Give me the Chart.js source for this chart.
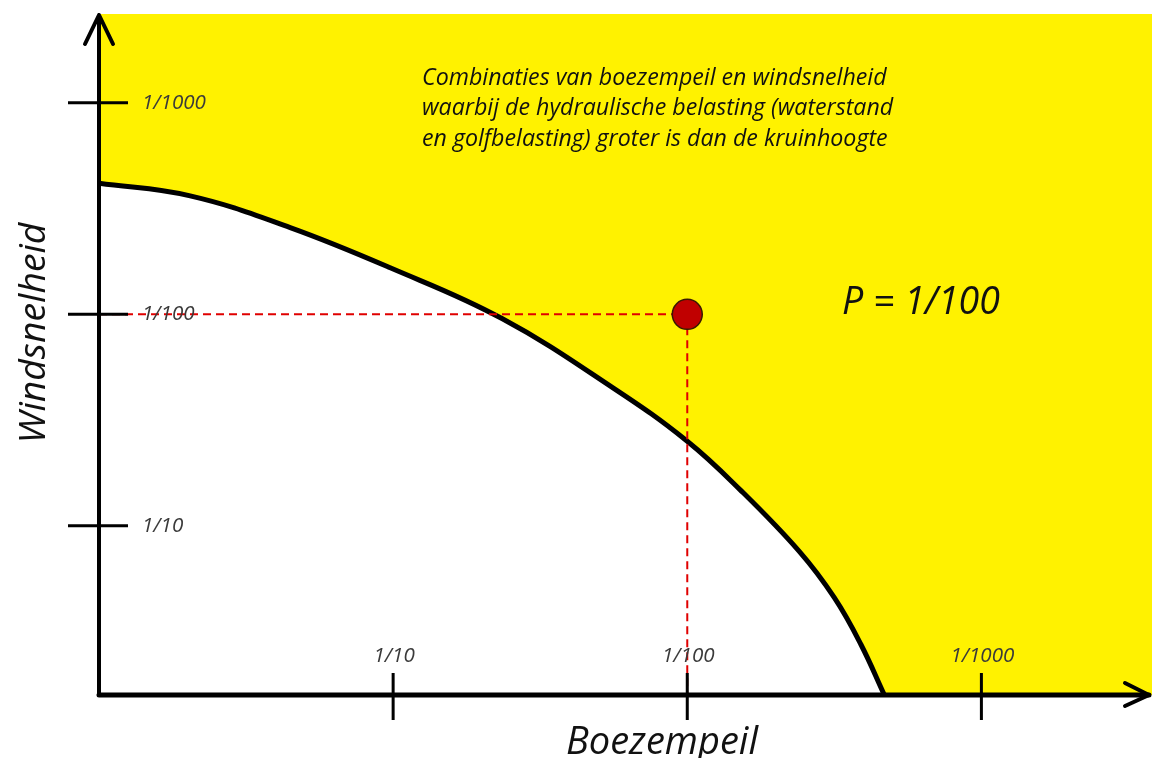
<!DOCTYPE html>
<html lang="nl">
<head>
    <meta charset="UTF-8">
    <title>Boezempeil en windsnelheid</title>
    <style>
        html, body { margin: 0; padding: 0; background: #fff; overflow: hidden; }
        #wrap { width: 1152px; height: 758px; }
    </style>
</head>
<body>
    <div id="wrap"><canvas id="myChart" width="1152" height="758"></canvas></div>

    <script src="https://cdn.jsdelivr.net/npm/chart.js@4.4.0/dist/chart.umd.min.js"></script>
    <script>
        // axis ticks (log10 of the return period)
        var xTickValues = [1, 2, 3];
        var xTickLabels = ['1/10', '1/100', '1/1000'];
        var yTickValues = [1, 2, 3];
        var yTickLabels = ['1/10', '1/100', '1/1000'];

        // combinations with P = 1/100
        var curveX = [0, 0.31, 0.65, 0.99, 1.37, 1.75, 2.00, 2.18, 2.38, 2.50, 2.59, 2.67];
        var curveY = [2.62, 2.56, 2.41, 2.22, 1.98, 1.65, 1.40, 1.17, 0.88, 0.66, 0.44, 0.20];

        // beyond the curve the whole strip above the axis is exceeded
        var tailX = [2.663, 3.58];
        var tailY = [0.20, 0.20];

        // the marked point
        var pointX = [2];
        var pointY = [2];

        var xMin = 0, xMax = 3.58, yMin = 0.2, yMax = 3.42;

        var annotationLines = [
            'Combinaties van boezempeil en windsnelheid',
            'waarbij de hydraulische belasting (waterstand',
            'en golfbelasting) groter is dan de kruinhoogte'
        ];

        var FAMILY = '"Open Sans", Lato, sans-serif';

        function toPoints(xs, ys) {
            return xs.map(function (x, i) { return { x: x, y: ys[i] }; });
        }

        // pick an italic font size so that text gets about the given width
        function fitFont(ctx, text, width) {
            ctx.font = 'italic 20px ' + FAMILY;
            var size = 20 * width / ctx.measureText(text).width;
            ctx.font = 'italic ' + size.toFixed(1) + 'px ' + FAMILY;
        }

        var axesPlugin = {
            id: 'axes',
            afterDraw: function (chart) {
                var ctx = chart.ctx;
                var area = chart.chartArea;
                var xs = chart.scales.x, ys = chart.scales.y;
                ctx.save();
                ctx.strokeStyle = '#000';
                ctx.lineCap = 'round';
                ctx.lineJoin = 'round';

                // y axis with arrow
                ctx.lineWidth = 4;
                ctx.beginPath();
                ctx.moveTo(area.left, area.bottom);
                ctx.lineTo(area.left, area.top + 1);
                ctx.moveTo(area.left - 14, area.top + 30);
                ctx.lineTo(area.left, area.top + 1);
                ctx.lineTo(area.left + 14, area.top + 30);
                ctx.stroke();

                // x axis with arrow
                ctx.lineWidth = 5;
                ctx.beginPath();
                ctx.moveTo(area.left, area.bottom);
                ctx.lineTo(area.right - 3, area.bottom);
                ctx.stroke();
                ctx.lineWidth = 4;
                ctx.beginPath();
                ctx.moveTo(area.right - 27, area.bottom - 12);
                ctx.lineTo(area.right - 3, area.bottom);
                ctx.lineTo(area.right - 27, area.bottom + 11);
                ctx.stroke();

                // tick marks
                ctx.lineWidth = 3;
                ctx.lineCap = 'butt';
                ctx.beginPath();
                yTickValues.forEach(function (v) {
                    var py = ys.getPixelForValue(v);
                    ctx.moveTo(area.left - 31, py);
                    ctx.lineTo(area.left + 29, py);
                });
                xTickValues.forEach(function (v) {
                    var px = xs.getPixelForValue(v);
                    ctx.moveTo(px, area.bottom - 22);
                    ctx.lineTo(px, area.bottom + 25);
                });
                ctx.stroke();

                // tick labels
                ctx.fillStyle = '#3a3a3a';
                fitFont(ctx, '1/1000', 64);
                ctx.textBaseline = 'middle';
                ctx.textAlign = 'left';
                yTickValues.forEach(function (v, i) {
                    ctx.fillText(yTickLabels[i], area.left + 43, ys.getPixelForValue(v));
                });
                ctx.textAlign = 'center';
                xTickValues.forEach(function (v, i) {
                    ctx.fillText(xTickLabels[i], xs.getPixelForValue(v) + 1, area.bottom - 39);
                });

                // axis titles
                ctx.fillStyle = '#111';
                ctx.textAlign = 'center';
                fitFont(ctx, 'Boezempeil', 192);
                ctx.fillText('Boezempeil', 662, 743);
                ctx.save();
                ctx.translate(34, 333);
                ctx.rotate(-Math.PI / 2);
                fitFont(ctx, 'Windsnelheid', 221);
                ctx.fillText('Windsnelheid', 0, 0);
                ctx.restore();

                // explanation text
                ctx.fillStyle = '#111';
                fitFont(ctx, annotationLines[0], 465);
                ctx.textAlign = 'left';
                annotationLines.forEach(function (line, i) {
                    ctx.fillText(line, 422, 78 + i * 30.5);
                });

                fitFont(ctx, 'P = 1/100', 158);
                ctx.fillText('P = 1/100', 842, 303);

                ctx.restore();
            }
        };

        function createChart() {
            var ctx = document.getElementById('myChart').getContext('2d');
            new Chart(ctx, {
                type: 'scatter',
                data: {
                    datasets: [
                        {
                            label: 'punt',
                            data: toPoints(pointX, pointY),
                            pointRadius: 15,
                            pointBackgroundColor: '#c00000',
                            pointBorderColor: '#3a1a00',
                            pointBorderWidth: 1.5,
                            order: 0
                        },
                        {
                            label: 'horizontaal',
                            type: 'line',
                            data: [{ x: xMin, y: pointY[0] }, { x: pointX[0], y: pointY[0] }],
                            borderColor: '#e00000',
                            borderWidth: 2,
                            borderDash: [8, 5],
                            pointRadius: 0,
                            fill: false,
                            order: 1
                        },
                        {
                            label: 'verticaal',
                            type: 'line',
                            data: [{ x: pointX[0], y: pointY[0] }, { x: pointX[0], y: yMin }],
                            borderColor: '#e00000',
                            borderWidth: 2,
                            borderDash: [8, 5],
                            pointRadius: 0,
                            fill: false,
                            order: 1
                        },
                        {
                            label: 'P = 1/100',
                            type: 'line',
                            data: toPoints(curveX, curveY),
                            borderColor: '#000',
                            borderWidth: 5,
                            backgroundColor: '#fff200',
                            fill: 'end',
                            pointRadius: 0,
                            tension: 0.4,
                            order: 2
                        },
                        {
                            label: 'rest',
                            type: 'line',
                            data: toPoints(tailX, tailY),
                            borderWidth: 0,
                            borderColor: 'rgba(0,0,0,0)',
                            backgroundColor: '#fff200',
                            fill: 'end',
                            pointRadius: 0,
                            order: 3
                        }
                    ]
                },
                options: {
                    responsive: false,
                    animation: false,
                    layout: { autoPadding: false, padding: { left: 99, top: 14, right: 0, bottom: 63 } },
                    scales: {
                        x: { type: 'linear', min: xMin, max: xMax, display: false },
                        y: { type: 'linear', min: yMin, max: yMax, display: false }
                    },
                    plugins: {
                        legend: { display: false },
                        tooltip: { enabled: false }
                    }
                },
                plugins: [axesPlugin]
            });
        }
        createChart();
    </script>
</body>
</html>
